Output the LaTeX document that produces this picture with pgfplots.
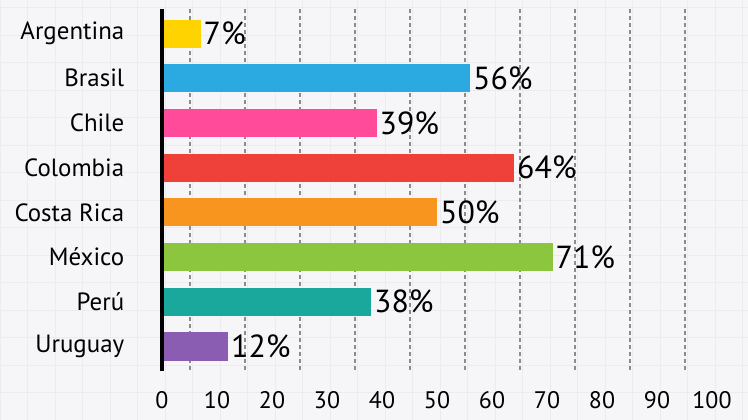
\documentclass[border=0pt]{standalone}
\usepackage{pgfplots}
\pgfplotsset{compat=1.18}
\usepackage{fontspec}
\setmainfont{PT Sans}
\definecolor{bgpaper}{HTML}{F6F6F8}
\definecolor{bggrid}{HTML}{ECECF0}
\definecolor{dgrid}{HTML}{8C8C8C}
\definecolor{cArg}{HTML}{FFD300}
\definecolor{cBra}{HTML}{2BAAE2}
\definecolor{cChi}{HTML}{FF4B9A}
\definecolor{cCol}{HTML}{EF413A}
\definecolor{cCR}{HTML}{F8951F}
\definecolor{cMex}{HTML}{8CC63F}
\definecolor{cPer}{HTML}{1BA89C}
\definecolor{cUru}{HTML}{8A5DB2}
\begin{document}
\begin{tikzpicture}
\fill[bgpaper] (0,0) rectangle (748bp,420bp);
\begin{scope}
\clip (0,0) rectangle (748bp,420bp);
\draw[bggrid, line width=0.8bp, step=27.5bp] (0,0) grid (748bp,420bp);
\end{scope}
\begin{axis}[
  at={(162bp,49bp)}, anchor=south west,
  scale only axis, width=550bp, height=362bp,
  xmin=0, xmax=100, ymin=-0.55, ymax=7.55,
  y dir=reverse,
  xbar, bar width=0.63, /pgf/bar shift=0pt,
  axis line style={draw=none},
  tick style={draw=none},
  xtick={0,10,...,100},
  extra x ticks={5,15,...,95},
  extra x tick labels={},
  extra x tick style={grid=major},
  major grid style={draw=dgrid, line width=2bp, dash pattern=on 3.5bp off 3.5bp},
  ytick={0,...,7},
  yticklabels={Argentina,Brasil,Chile,Colombia,Costa Rica,México,Perú,Uruguay},
  /pgf/number format/assume math mode=true,
  xticklabel style={font=\fontsize{24}{26}\selectfont, yshift=-17bp},
  yticklabel style={font=\fontsize{25}{27}\selectfont, xshift=-30bp, anchor=east},
  nodes near coords={\pgfmathprintnumber{\pgfplotspointmeta}\%},
  nodes near coords align={horizontal},
  every node near coord/.append style={font=\fontsize{32}{34}\selectfont, black, anchor=west, inner sep=3bp},
  clip=false,
]
\addplot[fill=cArg, draw=none] coordinates {(7,0)};
\addplot[fill=cBra, draw=none] coordinates {(56,1)};
\addplot[fill=cChi, draw=none] coordinates {(39,2)};
\addplot[fill=cCol, draw=none] coordinates {(64,3)};
\addplot[fill=cCR, draw=none] coordinates {(50,4)};
\addplot[fill=cMex, draw=none] coordinates {(71,5)};
\addplot[fill=cPer, draw=none] coordinates {(38,6)};
\addplot[fill=cUru, draw=none] coordinates {(12,7)};
\draw[black, line width=3.5bp] (axis cs:0,-0.55) -- (axis cs:0,7.55);
\end{axis}
\end{tikzpicture}
\end{document}
